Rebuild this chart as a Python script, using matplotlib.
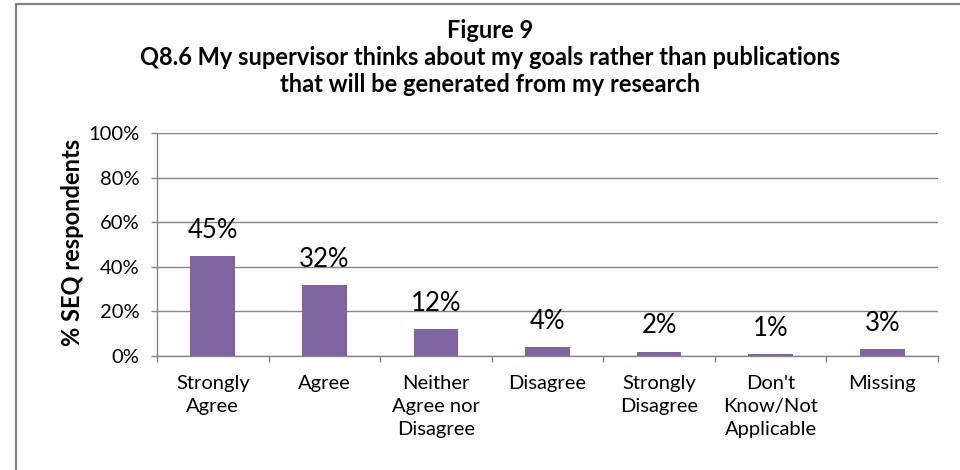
import matplotlib
matplotlib.use("Agg")
import matplotlib.pyplot as plt
from matplotlib.patches import Rectangle
from matplotlib.ticker import FixedLocator, PercentFormatter

categories = ["Strongly\nAgree", "Agree", "Neither\nAgree nor\nDisagree", "Disagree",
              "Strongly\nDisagree", "Don't\nKnow/Not\nApplicable", "Missing"]
values = [45, 32, 12, 4, 2, 1, 3]
value_labels = ["45%", "32%", "12%", "4%", "2%", "1%", "3%"]
title_lines = ["Figure 9",
               "Q8.6 My supervisor thinks about my goals rather than publications",
               "that will be generated from my research"]
y_label = "% SEQ respondents"

plt.rcParams["font.family"] = ["Lato", "DejaVu Sans"]

W, H = 960, 470
fig = plt.figure(figsize=(W / 100, H / 100), dpi=100)
fig.patch.set_facecolor("white")

# chart-area border (left and top edges visible)
fig.patches.append(Rectangle((16 / W, -0.2), 2.0, 1.2 - 3.5 / H, transform=fig.transFigure,
                             fill=False, edgecolor="#828282", linewidth=1.6))

ax = fig.add_axes([157 / W, 1 - 356 / H, (938 - 157) / W, (356 - 133) / H])
x = list(range(len(values)))
ax.bar(x, values, width=0.4, color="#8064A2", zorder=3)

ax.set_xlim(-0.5, len(values) - 0.5)
ax.set_ylim(0, 100)
ax.yaxis.set_major_locator(FixedLocator([0, 20, 40, 60, 80, 100]))
ax.yaxis.set_major_formatter(PercentFormatter(decimals=0))
ax.grid(axis="y", color="#868686", linewidth=1.0, zorder=0)

for s in ("top", "right"):
    ax.spines[s].set_visible(False)
for s in ("left", "bottom"):
    ax.spines[s].set_color("#868686")
    ax.spines[s].set_linewidth(1.0)

ax.set_xticks(x)
ax.set_xticklabels(categories, fontsize=14.5, linespacing=1.45)
ax.tick_params(axis="x", which="major", length=0, pad=13.5)
ax.set_xticks([i - 0.5 for i in range(len(values) + 1)], minor=True)
ax.tick_params(axis="x", which="minor", length=4.5, color="#868686", width=1.0)
ax.tick_params(axis="y", length=4.5, color="#868686", width=1.0, labelsize=14.5, pad=8)

for xi, v, lab in zip(x, values, value_labels):
    ax.annotate(lab, (xi, v), xytext=(0, 13), textcoords="offset points",
                ha="center", va="baseline", fontsize=18.5, color="black")

fig.text(73 / W, 1 - 242 / H, y_label, rotation=90, ha="center", va="center",
         fontsize=17, fontweight="bold")

for i, line in enumerate(title_lines):
    fig.text(490 / W, 1 - (31 + 26.5 * i) / H, line, ha="center", va="center",
             fontsize=17, fontweight="bold")

fig.savefig("out.png", dpi=100)
